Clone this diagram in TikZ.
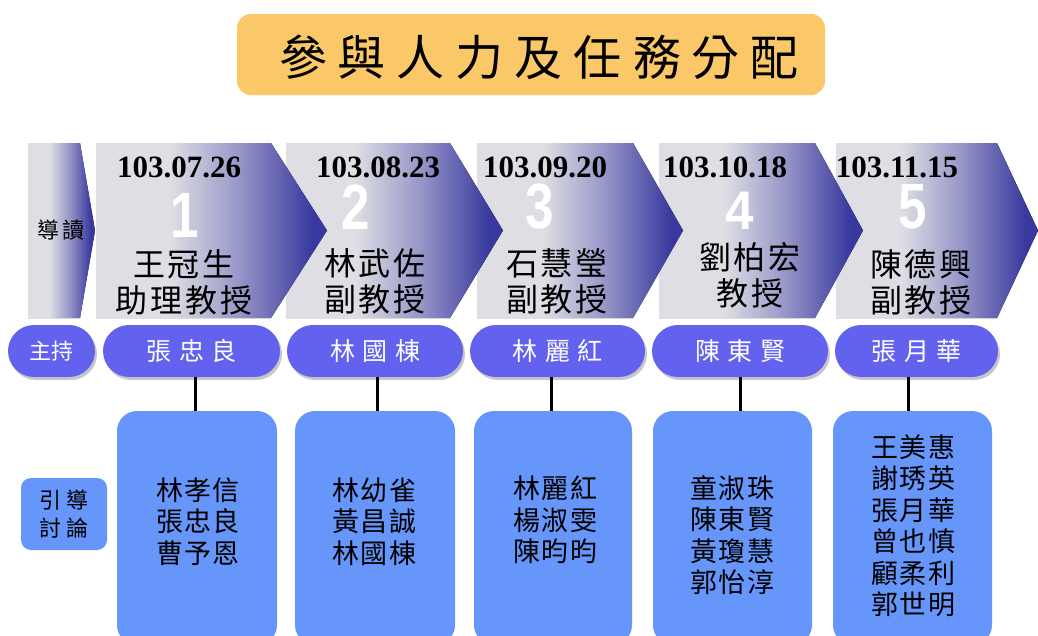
\documentclass[tikz,border=0pt]{standalone}
\usepackage{fontspec}
\newfontfamily\cjk{Noto Sans CJK TC}
\newfontfamily\dtf{Liberation Serif}
\newfontfamily\numf{Liberation Sans}
\definecolor{titlebg}{RGB}{250,200,105}
\definecolor{pillc}{RGB}{98,98,238}
\definecolor{boxc}{RGB}{102,150,250}
\definecolor{chl}{RGB}{222,222,228}
\definecolor{chm}{RGB}{150,150,200}
\definecolor{chd}{RGB}{56,56,158}
\pgfdeclarehorizontalshading{chev}{100bp}{color(0bp)=(chl); color(25bp)=(chl); color(41bp)=(chl); color(56bp)=(chm); color(72bp)=(chd); color(100bp)=(chd)}
\makeatletter
\newcommand\lspaced[2]{\@tfor\lsp@ch:=#2\do{\lsp@ch\hskip#1\relax}\unskip}
\makeatother
\begin{document}
\begin{tikzpicture}[x=1pt,y=-1pt,
  chevfill/.style={shading=chev},
  datetxt/.style={inner sep=0pt,font=\dtf\bfseries\fontsize{31}{31}\selectfont},
  numtxt/.style={inner sep=0pt,text=white,font=\numf\bfseries\fontsize{64}{64}\selectfont},
  nametxt/.style={inner sep=0pt,align=center,font=\cjk\fontsize{32}{36}\selectfont},
  pillnode/.style={fill=pillc,rounded corners=26pt,inner sep=0pt,minimum height=52pt,text=white},
  pillshadow/.style={fill=black!22,rounded corners=26pt},
  boxnode/.style={fill=boxc,rounded corners=20pt,inner sep=0pt},
  boxtxt/.style={inner sep=0pt,align=center,font=\cjk\fontsize{27}{31.5}\selectfont},
  link/.style={line width=3pt,black}]
\useasboundingbox (0,0) rectangle (1038,635);
\clip (0,0) rectangle (1038,635);

% title
\node[fill=titlebg,rounded corners=14pt,minimum width=588pt,minimum height=81pt,inner sep=0pt] (title) at (531,54.5) {};
\node[inner sep=0pt,font=\cjk\fontsize{48}{48}\selectfont] (titletxt) at (539,57) {\lspaced{11pt}{參與人力及任務分配}};

% chevrons (drawn right to left so earlier ones lie on top)
\fill[chevfill] (836,143) -- (997,143) -- (1038,230.5) -- (997,318) -- (836,318) -- cycle;
\fill[chevfill] (659,143) -- (815,143) -- (863,230.5) -- (815,318) -- (659,318) -- cycle;
\fill[chevfill] (477,143) -- (633,143) -- (683,230.5) -- (633,318) -- (477,318) -- cycle;
\fill[chevfill] (286,143) -- (450,143) -- (503,230.5) -- (450,318) -- (286,318) -- cycle;
\fill[chevfill] (96,143) -- (271,143) -- (327,230.5) -- (271,318) -- (96,318) -- cycle;
\fill[chevfill] (28,143) -- (80,143) -- (95,230.5) -- (80,318) -- (28,318) -- cycle;

\node[inner sep=0pt,font=\cjk\fontsize{22}{22}\selectfont] (guide) at (61,230) {\lspaced{3pt}{導讀}};

\node[datetxt] (d1) at (179,167) {103.07.26};
\node[datetxt] (d2) at (378,167) {103.08.23};
\node[datetxt] (d3) at (545,167) {103.09.20};
\node[datetxt] (d4) at (725,167) {103.10.18};
\node[datetxt] (d5) at (897,167) {103.11.15};

\node[numtxt] (n1) at (185,215) {\scalebox{0.8}[1]{1}};
\node[numtxt] (n2) at (356,207) {\scalebox{0.8}[1]{2}};
\node[numtxt] (n3) at (540,207) {\scalebox{0.8}[1]{3}};
\node[numtxt] (n4) at (740,211) {\scalebox{0.8}[0.85]{4}};
\node[numtxt] (n5) at (913,207) {\scalebox{0.8}[1]{5}};

\node[nametxt] (m1) at (184,282.5) {\lspaced{3pt}{王冠生}\\\lspaced{3pt}{助理教授}};
\node[nametxt] (m2) at (375,281) {\lspaced{3pt}{林武佐}\\\lspaced{3pt}{副教授}};
\node[nametxt] (m3) at (557,281) {\lspaced{3pt}{石慧瑩}\\\lspaced{3pt}{副教授}};
\node[nametxt] (m4) at (750,275.5) {\lspaced{3pt}{劉柏宏}\\\lspaced{3pt}{教授}};
\node[nametxt] (m5) at (921,282.5) {\lspaced{3pt}{陳德興}\\\lspaced{3pt}{副教授}};

% host pills (shadows first)
\fill[pillshadow] (10,328) rectangle (97,380);
\fill[pillshadow] (105,328) rectangle (282,380);
\fill[pillshadow] (289,328) rectangle (465,380);
\fill[pillshadow] (472,328) rectangle (647,380);
\fill[pillshadow] (654,328) rectangle (830,380);
\fill[pillshadow] (837,328) rectangle (1000,380);
\node[pillnode,minimum width=87pt,font=\cjk\fontsize{22}{22}\selectfont] (host) at (51.5,351) {\lspaced{1pt}{主持}};
\node[pillnode,minimum width=177pt,font=\cjk\fontsize{25}{25}\selectfont] (p1) at (191.5,351) {\lspaced{7.5pt}{張忠良}};
\node[pillnode,minimum width=176pt,font=\cjk\fontsize{25}{25}\selectfont] (p2) at (375,351) {\lspaced{7.5pt}{林國棟}};
\node[pillnode,minimum width=175pt,font=\cjk\fontsize{25}{25}\selectfont] (p3) at (557.5,351) {\lspaced{7.5pt}{林麗紅}};
\node[pillnode,minimum width=176pt,font=\cjk\fontsize{25}{25}\selectfont] (p4) at (740,351) {\lspaced{7.5pt}{陳東賢}};
\node[pillnode,minimum width=163pt,font=\cjk\fontsize{25}{25}\selectfont] (p5) at (916.5,351) {\lspaced{7.5pt}{張月華}};

% discussion boxes
\node[boxnode,minimum width=86pt,minimum height=72pt,rounded corners=10pt,align=center,font=\cjk\fontsize{22}{28}\selectfont] (lead) at (64,514) {\lspaced{6pt}{引導}\\\lspaced{6pt}{討論}};
\node[boxnode,minimum width=160pt,minimum height=234pt] (b1) at (197,528) {};
\node[boxnode,minimum width=160pt,minimum height=234pt] (b2) at (375,528) {};
\node[boxnode,minimum width=158pt,minimum height=234pt] (b3) at (553,528) {};
\node[boxnode,minimum width=159pt,minimum height=234pt] (b4) at (732.5,528) {};
\node[boxnode,minimum width=159pt,minimum height=234pt] (b5) at (912.5,528) {};

\draw[link] (p1.south -| 195,0) -- (b1.north -| 195,0);
\draw[link] (p2.south -| 377,0) -- (b2.north -| 377,0);
\draw[link] (p3.south -| 551,0) -- (b3.north -| 551,0);
\draw[link] (p4.south -| 740,0) -- (b4.north -| 740,0);
\draw[link] (p5.south -| 908,0) -- (b5.north -| 908,0);

\node[boxtxt] (t1) at (198,521.5) {\lspaced{1.5pt}{林孝信}\\\lspaced{1.5pt}{張忠良}\\\lspaced{1.5pt}{曹予恩}};
\node[boxtxt] (t2) at (374,521.5) {\lspaced{1.5pt}{林幼雀}\\\lspaced{1.5pt}{黃昌誠}\\\lspaced{1.5pt}{林國棟}};
\node[boxtxt] (t3) at (555,520) {\lspaced{1.5pt}{林麗紅}\\\lspaced{1.5pt}{楊淑雯}\\\lspaced{1.5pt}{陳昀昀}};
\node[boxtxt] (t4) at (732,535) {\lspaced{1.5pt}{童淑珠}\\\lspaced{1.5pt}{陳東賢}\\\lspaced{1.5pt}{黃瓊慧}\\\lspaced{1.5pt}{郭怡淳}};
\node[boxtxt] (t5) at (913,526) {\lspaced{1.5pt}{王美惠}\\\lspaced{1.5pt}{謝琇英}\\\lspaced{1.5pt}{張月華}\\\lspaced{1.5pt}{曾也慎}\\\lspaced{1.5pt}{顧柔利}\\\lspaced{1.5pt}{郭世明}};
\end{tikzpicture}
\end{document}
